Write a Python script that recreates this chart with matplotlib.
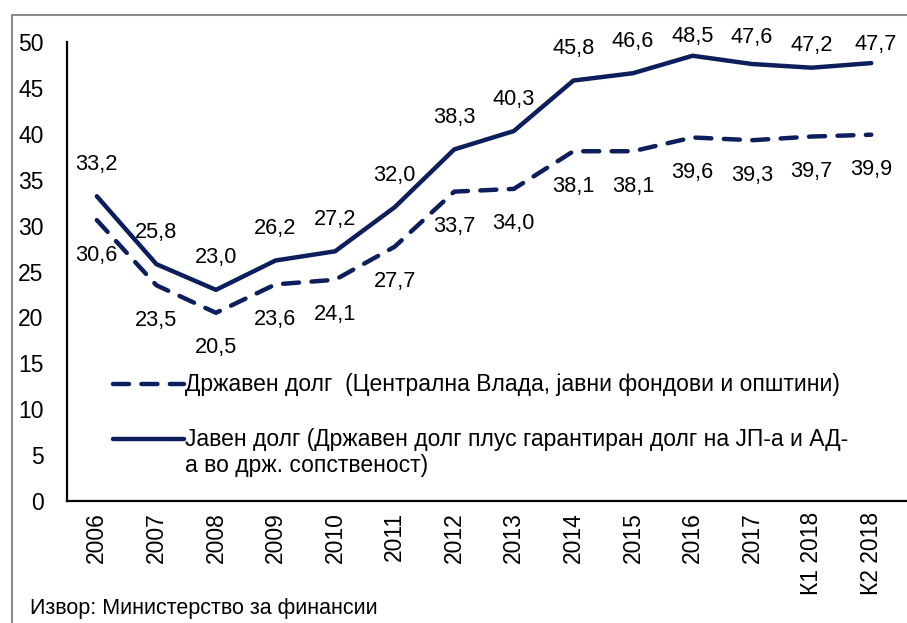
import matplotlib.pyplot as plt
from matplotlib.lines import Line2D
from matplotlib.patches import Rectangle

plt.rcParams['font.family'] = ['Liberation Sans Narrow', 'Liberation Sans', 'DejaVu Sans']

periods = ['2006', '2007', '2008', '2009', '2010', '2011', '2012', '2013',
           '2014', '2015', '2016', '2017', 'К1 2018', 'К2 2018']
state_debt = [30.6, 23.5, 20.5, 23.6, 24.1, 27.7, 33.7, 34.0,
              38.1, 38.1, 39.6, 39.3, 39.7, 39.9]
public_debt = [33.2, 25.8, 23.0, 26.2, 27.2, 32.0, 38.3, 40.3,
               45.8, 46.6, 48.5, 47.6, 47.2, 47.7]

label_state = 'Државен долг  (Централна Влада, јавни фондови и општини)'
label_public = 'Јавен долг (Државен долг плус гарантиран долг на ЈП-а и АД-\nа во држ. сопственост)'

navy = '#0c1f5c'

# label offsets in pixels (dx, dy); top labels squeezed under the plot top
off_state = [(0, -35)] * 14
off_public = [(0, 32)] * 10 + [(0, 19), (0, 27), (0, 22), (4, 19)]

fig = plt.figure(figsize=(9.07, 6.23), dpi=100)
ax = fig.add_axes([0.0739, 0.1958, 0.9261, 0.7368])

x = list(range(len(periods)))
ax.plot(x, state_debt, color=navy, lw=3.2, linestyle=(0, (3.6, 2.8)),
        dash_capstyle='round', solid_capstyle='round')
ax.plot(x, public_debt, color=navy, lw=3.2, solid_capstyle='round',
        solid_joinstyle='round')

for i, v in enumerate(state_debt):
    ax.annotate(f'{v:.1f}'.replace('.', ','), (i, v), xytext=off_state[i],
                textcoords='offset pixels', ha='center', va='center', fontsize=15.7)
for i, v in enumerate(public_debt):
    ax.annotate(f'{v:.1f}'.replace('.', ','), (i, v), xytext=off_public[i],
                textcoords='offset pixels', ha='center', va='center', fontsize=15.7)

ax.set_xlim(-0.5, 13.6)
ax.set_ylim(0, 50)
ax.set_yticks(range(0, 51, 5))
ax.set_xticks(x)
ax.set_xticklabels(periods, rotation=90)
ax.tick_params(axis='both', length=0, labelsize=16.5)
ax.tick_params(axis='y', pad=17)
ax.tick_params(axis='x', pad=8)
for s in ['top', 'right']:
    ax.spines[s].set_visible(False)
for s in ['left', 'bottom']:
    ax.spines[s].set_linewidth(1.6)

# manual legend
t = ax.transAxes
ax.add_line(Line2D([0.055, 0.139], [0.254, 0.254], transform=t, color=navy, lw=3.2,
                   linestyle=(0, (3.6, 2.8)), dash_capstyle='round', clip_on=False))
ax.text(0.141, 0.254, label_state, transform=t, fontsize=16.5, va='center')
ax.add_line(Line2D([0.055, 0.139], [0.136, 0.136], transform=t, color=navy, lw=3.2,
                   solid_capstyle='round', clip_on=False))
ax.text(0.141, 0.158, label_public, transform=t, fontsize=16.5, va='top', linespacing=1.15)

fig.text(0.033, 0.024, 'Извор: Министерство за финансии', fontsize=15.5, va='center')

# outer frame
fig.add_artist(Rectangle((12 / 907, -0.1), 1.2, 1 - 15 / 623 + 0.1, transform=fig.transFigure,
                         fill=False, edgecolor='#8c8c8c', lw=1.5))

fig.savefig('out.png', dpi=100)
